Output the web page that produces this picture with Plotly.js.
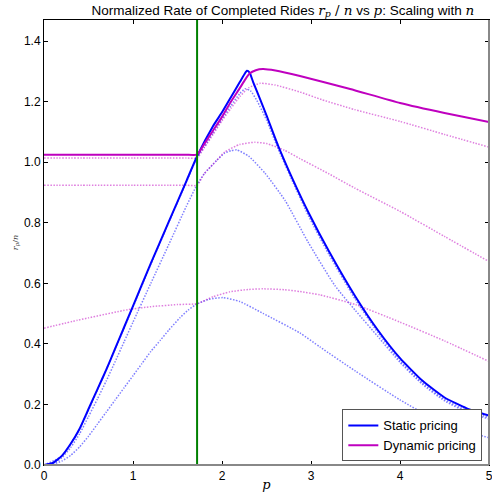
<!DOCTYPE html>
<html>
<head>
<meta charset="utf-8">
<script src="https://cdn.plot.ly/plotly-3.0.1.min.js"></script>
<style>html,body{margin:0;padding:0;background:#fff;}#chart{width:492px;height:492px;}</style>
</head>
<body>
<div id="chart"></div>
<script>
// threshold price (vertical green line)
const threshold = 1.72;

// Static pricing, limit curve
const staticP = [0, 0.1, 0.2, 0.3, 0.4, 0.5, 0.6, 0.7, 0.8, 0.9, 1.0, 1.2, 1.4, 1.6, 1.72, 1.9, 2.0, 2.1, 2.2, 2.25, 2.28, 2.31, 2.35, 2.43, 2.5, 2.63, 2.8, 2.97, 3.2, 3.5, 3.75, 4.0, 4.25, 4.5, 4.75, 5.0];
const staticY = [0, 0.007, 0.03, 0.07, 0.12, 0.185, 0.25, 0.315, 0.385, 0.455, 0.525, 0.666, 0.802, 0.938, 1.02, 1.12, 1.165, 1.215, 1.265, 1.29, 1.302, 1.296, 1.265, 1.207, 1.155, 1.055, 0.94, 0.835, 0.707, 0.556, 0.446, 0.353, 0.279, 0.223, 0.187, 0.163];

// Dynamic pricing, limit curve
const dynP = [0, 0.5, 1.0, 1.4, 1.6, 1.72, 1.8, 1.9, 2.0, 2.1, 2.2, 2.26, 2.31, 2.38, 2.46, 2.6, 2.876, 3.44, 4.0, 4.5, 5.0];
const dynY = [1.025, 1.025, 1.025, 1.025, 1.025, 1.025, 1.06, 1.105, 1.15, 1.2, 1.245, 1.273, 1.293, 1.304, 1.308, 1.303, 1.285, 1.242, 1.196, 1.163, 1.133];

// Static pricing, finite n (three sizes)
const staticN1P = [0, 0.2, 0.4, 0.6, 0.8, 1.0, 1.2, 1.4, 1.6, 1.72, 1.8, 1.9, 2.0, 2.1, 2.2, 2.26, 2.32, 2.39, 2.5, 2.63, 2.8, 2.97, 3.2, 3.5, 3.75, 4.0, 4.25, 4.5, 4.75, 5.0];
const staticN1Y = [0, 0.029, 0.118, 0.248, 0.383, 0.522, 0.663, 0.8, 0.935, 1.016, 1.05, 1.097, 1.142, 1.187, 1.227, 1.243, 1.236, 1.205, 1.14, 1.045, 0.932, 0.824, 0.696, 0.546, 0.438, 0.345, 0.272, 0.217, 0.18, 0.157];

const staticN2P = [0, 0.1, 0.2, 0.3, 0.4, 0.5, 0.6, 0.7, 0.8, 0.9, 1.0, 1.2, 1.4, 1.6, 1.72, 1.8, 1.94, 2.03, 2.1, 2.165, 2.3, 2.483, 2.708, 2.97, 3.27, 3.5, 3.75, 4.0, 4.25, 4.5, 4.75, 5.0];
const staticN2Y = [0, 0.005, 0.024, 0.058, 0.103, 0.16, 0.218, 0.278, 0.342, 0.407, 0.472, 0.6, 0.727, 0.855, 0.926, 0.962, 1.006, 1.03, 1.038, 1.041, 1.02, 0.964, 0.874, 0.735, 0.592, 0.51, 0.425, 0.339, 0.267, 0.212, 0.175, 0.152];

const staticN3P = [0, 0.1, 0.2, 0.3, 0.4, 0.5, 0.6, 0.7, 0.8, 0.9, 1.0, 1.1, 1.2, 1.31, 1.4, 1.53, 1.62, 1.72, 1.85, 2.01, 2.2, 2.46, 2.876, 3.1, 3.5, 4.0, 4.37, 4.7, 5.0];
const staticN3Y = [0, 0.003, 0.013, 0.032, 0.06, 0.095, 0.135, 0.175, 0.215, 0.255, 0.295, 0.335, 0.375, 0.413, 0.445, 0.487, 0.512, 0.532, 0.547, 0.553, 0.54, 0.501, 0.436, 0.39, 0.31, 0.215, 0.154, 0.115, 0.09];

// Dynamic pricing, finite n (three sizes)
const dynN1P = [0, 0.5, 1.0, 1.4, 1.6, 1.72, 1.8, 1.9, 2.0, 2.1, 2.2, 2.3, 2.43, 2.6, 2.876, 3.12, 3.49, 4.0, 4.5, 5.0];
const dynN1Y = [1.014, 1.014, 1.014, 1.014, 1.014, 1.014, 1.048, 1.092, 1.137, 1.178, 1.217, 1.246, 1.261, 1.255, 1.232, 1.207, 1.174, 1.135, 1.092, 1.05];

const dynN2P = [0, 0.5, 1.0, 1.4, 1.6, 1.72, 1.8, 1.94, 2.03, 2.2, 2.37, 2.5, 2.7, 2.876, 3.2, 3.49, 4.0, 4.5, 5.0];
const dynN2Y = [0.924, 0.924, 0.924, 0.924, 0.924, 0.924, 0.962, 1.006, 1.034, 1.059, 1.066, 1.062, 1.04, 1.012, 0.962, 0.915, 0.838, 0.755, 0.672];

const dynN3P = [0, 0.375, 0.5, 0.94, 1.2, 1.5, 1.72, 1.9, 2.09, 2.3, 2.46, 2.7, 2.876, 3.1, 3.5, 4.0, 4.5, 5.0];
const dynN3Y = [0.452, 0.478, 0.486, 0.513, 0.523, 0.53, 0.533, 0.556, 0.572, 0.58, 0.582, 0.579, 0.573, 0.562, 0.53, 0.472, 0.41, 0.342];

const xTicks = [0, 1, 2, 3, 4, 5];
const yTicks = [0.0, 0.2, 0.4, 0.6, 0.8, 1.0, 1.2, 1.4];

const BLUE = '#0000ff';
const MAG = '#bf00bf';
const BLUE_D = 'rgba(0,0,255,0.5)';
const MAG_D = 'rgba(191,0,191,0.5)';

function dotted(x, y, c) {
  return {x: x, y: y, type: 'scatter', mode: 'lines', showlegend: false, hoverinfo: 'skip',
    line: {color: c, width: 1.5, dash: '1.5px,1.5px', shape: 'spline', smoothing: 0.5}};
}

const traces = [
  dotted(staticN1P, staticN1Y, BLUE_D),
  dotted(staticN2P, staticN2Y, BLUE_D),
  dotted(staticN3P, staticN3Y, BLUE_D),
  dotted(dynN1P, dynN1Y, MAG_D),
  dotted(dynN2P, dynN2Y, MAG_D),
  dotted(dynN3P, dynN3Y, MAG_D),
  {x: staticP, y: staticY, type: 'scatter', mode: 'lines', name: 'Static pricing',
    line: {color: BLUE, width: 2, shape: 'spline', smoothing: 0.5}},
  {x: dynP, y: dynY, type: 'scatter', mode: 'lines', name: 'Dynamic pricing',
    line: {color: MAG, width: 2, shape: 'spline', smoothing: 0.4}}
];

const F = 'Liberation Sans, Arial, sans-serif';

const layout = {
  width: 492, height: 492,
  margin: {l: 44, r: 3, t: 20, b: 27, pad: 0},
  paper_bgcolor: '#fff', plot_bgcolor: '#fff',
  font: {family: F, size: 12, color: '#000'},
  title: {
    text: 'Normalized Rate of Completed Rides <span style="font-family:DejaVu Serif"><i>r<sub>p</sub></i> / <i>n</i></span> vs <span style="font-family:DejaVu Serif"><i>p</i></span>: Scaling with <span style="font-family:DejaVu Serif"><i>n</i></span>',
    font: {family: F, size: 13.5, color: '#000'},
    x: 0.575, xanchor: 'center', y: 0.98, yanchor: 'middle', yref: 'container'
  },
  xaxis: {
    range: [0, 5], tickvals: xTicks, ticktext: xTicks.map(String),
    ticks: 'inside', ticklen: 4, tickcolor: '#000', tickwidth: 1,
    showline: true, linecolor: '#000', linewidth: 1, mirror: 'ticks',
    showgrid: false, zeroline: false, ticklabeloverflow: 'allow',
    tickfont: {family: F, size: 12, color: '#000'},
    title: {text: '<i>p</i>', font: {family: 'DejaVu Serif', size: 13}, standoff: 4}
  },
  yaxis: {
    range: [0, 1.47], tickvals: yTicks, ticktext: yTicks.map(v => v.toFixed(1)),
    ticks: 'inside', ticklen: 4, tickcolor: '#000', tickwidth: 1,
    showline: true, linecolor: '#000', linewidth: 1, mirror: 'ticks',
    showgrid: false, zeroline: false, ticklabeloverflow: 'allow',
    tickfont: {family: F, size: 12, color: '#000'},
    title: {text: '<i>r<sub>p</sub></i>/<i>n</i>', font: {family: 'DejaVu Serif', size: 8, color: '#444'}, standoff: 4}
  },
  legend: {
    x: 0.985, y: 0.008, xanchor: 'right', yanchor: 'bottom',
    bgcolor: '#fff', bordercolor: '#555', borderwidth: 1,
    font: {family: F, size: 13, color: '#000'},
    itemwidth: 30, tracegroupgap: 0
  },
  shapes: [
    {type: 'line', xref: 'x', yref: 'paper', x0: threshold, x1: threshold, y0: 0, y1: 1,
      line: {color: '#008000', width: 2}, layer: 'above'},
    {type: 'line', xref: 'paper', yref: 'paper', x0: 0, x1: 1, y0: 0, y1: 0,
      line: {color: '#888', width: 2}, layer: 'above'},
    {type: 'line', xref: 'paper', yref: 'paper', x0: 1, x1: 1, y0: 0, y1: 1,
      line: {color: '#888', width: 2}, layer: 'above'}
  ],
  showlegend: true
};

Plotly.newPlot('chart', traces, layout, {displayModeBar: false, staticPlot: true});
</script>
</body>
</html>
